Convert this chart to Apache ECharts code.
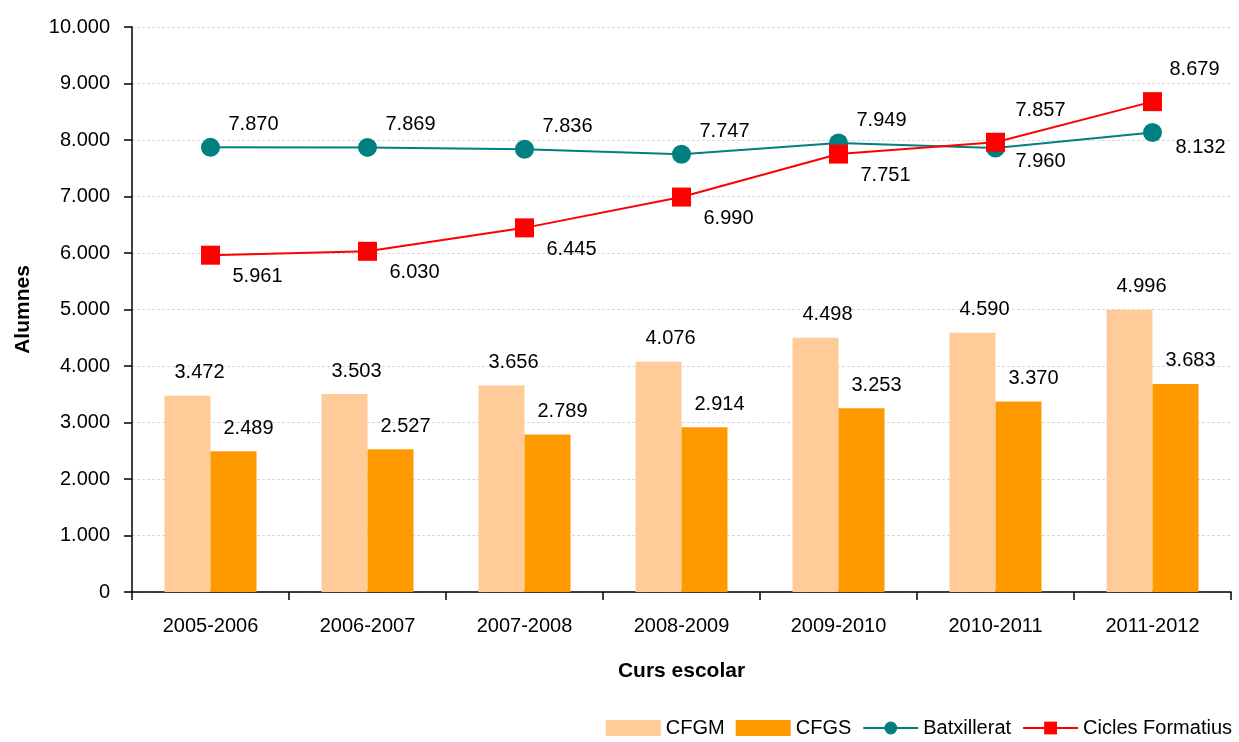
<!DOCTYPE html>
<html>
<head>
<meta charset="utf-8">
<script src="https://cdn.jsdelivr.net/npm/echarts@6/dist/echarts.min.js"></script>
<style>
html,body{margin:0;padding:0;background:#fff;}
#c{width:1239px;height:742px;}
</style>
</head>
<body>
<div id="c"></div>
<script>
var categories = ['2005-2006','2006-2007','2007-2008','2008-2009','2009-2010','2010-2011','2011-2012'];
var cfgm = [3472, 3503, 3656, 4076, 4498, 4590, 4996];
var cfgs = [2489, 2527, 2789, 2914, 3253, 3370, 3683];
var batxillerat = [7870, 7869, 7836, 7747, 7949, 7857, 8132];
var cicles = [5961, 6030, 6445, 6990, 7751, 7960, 8679];

function fmt(v){ return String(v).replace(/\B(?=(\d{3})+(?!\d))/g,'.'); }
var FONT = "'Liberation Sans', Arial, sans-serif";
var FS = 20;

// label placement overrides (style only), keyed by category index
var batxLabelOverrides = {5:{position:'top', offset:[45,-13]}, 6:{position:'bottom', offset:[48,-10]}};
var ciclesLabelOverrides = {5:{position:'bottom', offset:[45,-5]}, 6:{position:'top', offset:[42,-8]}};

var chart = echarts.init(document.getElementById('c'), null, {renderer:'canvas'});

function lineData(arr, overrides){
  return arr.map(function(v,i){
    var o = {value:v};
    if(overrides[i]){ o.label = overrides[i]; }
    return o;
  });
}

var option = {
  animation:false,
  textStyle:{fontFamily:FONT},
  grid:{left:132, right:8, top:27, bottom:150, containLabel:false, outerBoundsMode:'none'},
  legend:{
    right:2, bottom:-1, itemWidth:55, itemHeight:16, itemGap:11,
    textStyle:{fontFamily:FONT, fontSize:FS, color:'#000'},
    data:[
      {name:'CFGM', icon:'rect'},
      {name:'CFGS', icon:'rect'},
      {name:'Batxillerat'},
      {name:'Cicles Formatius'}
    ]
  },
  xAxis:{
    type:'category', data:categories,
    name:'Curs escolar', nameLocation:'middle', nameGap:69,
    nameTextStyle:{fontFamily:FONT, fontSize:21, fontWeight:'bold', color:'#000'},
    axisLine:{lineStyle:{color:'#000', width:1.5}},
    axisTick:{show:true, length:8, alignWithLabel:false, lineStyle:{color:'#000', width:1.5}},
    axisLabel:{fontFamily:FONT, fontSize:FS, color:'#000', margin:24}
  },
  yAxis:{
    type:'value', min:0, max:10000, interval:1000,
    name:'Alumnes', nameLocation:'middle', nameGap:98, nameRotate:90,
    nameTextStyle:{fontFamily:FONT, fontSize:21, fontWeight:'bold', color:'#000'},
    axisLine:{show:true, lineStyle:{color:'#000', width:1.5}},
    axisTick:{show:true, length:8, lineStyle:{color:'#000', width:1.5}},
    axisLabel:{fontFamily:FONT, fontSize:FS, color:'#000', margin:22, formatter:fmt},
    splitLine:{show:true, lineStyle:{color:'#d9d9d9', width:1, type:[3,2]}}
  },
  series:[
    {
      name:'CFGM', type:'bar', data:cfgm, barGap:'0%', barWidth:46,
      itemStyle:{color:'#FFCC99'},
      label:{show:true, position:'top', offset:[12,-8], formatter:function(p){return fmt(p.value);},
             fontFamily:FONT, fontSize:FS, color:'#000'}
    },
    {
      name:'CFGS', type:'bar', data:cfgs, barWidth:46,
      itemStyle:{color:'#FF9900'},
      label:{show:true, position:'top', offset:[15,-8], formatter:function(p){return fmt(p.value);},
             fontFamily:FONT, fontSize:FS, color:'#000'}
    },
    {
      name:'Batxillerat', type:'line', symbol:'circle', symbolSize:19,
      data:lineData(batxillerat, batxLabelOverrides),
      itemStyle:{color:'#008080'}, lineStyle:{color:'#008080', width:2},
      label:{show:true, position:'top', offset:[43,2], formatter:function(p){return fmt(p.value);},
             fontFamily:FONT, fontSize:FS, color:'#000'},
      z:5
    },
    {
      name:'Cicles Formatius', type:'line', symbol:'rect', symbolSize:19,
      data:lineData(cicles, ciclesLabelOverrides),
      itemStyle:{color:'#FF0000'}, lineStyle:{color:'#FF0000', width:2},
      label:{show:true, position:'bottom', offset:[47,-3], formatter:function(p){return fmt(p.value);},
             fontFamily:FONT, fontSize:FS, color:'#000'},
      z:6
    }
  ]
};
chart.setOption(option);
</script>
</body>
</html>
